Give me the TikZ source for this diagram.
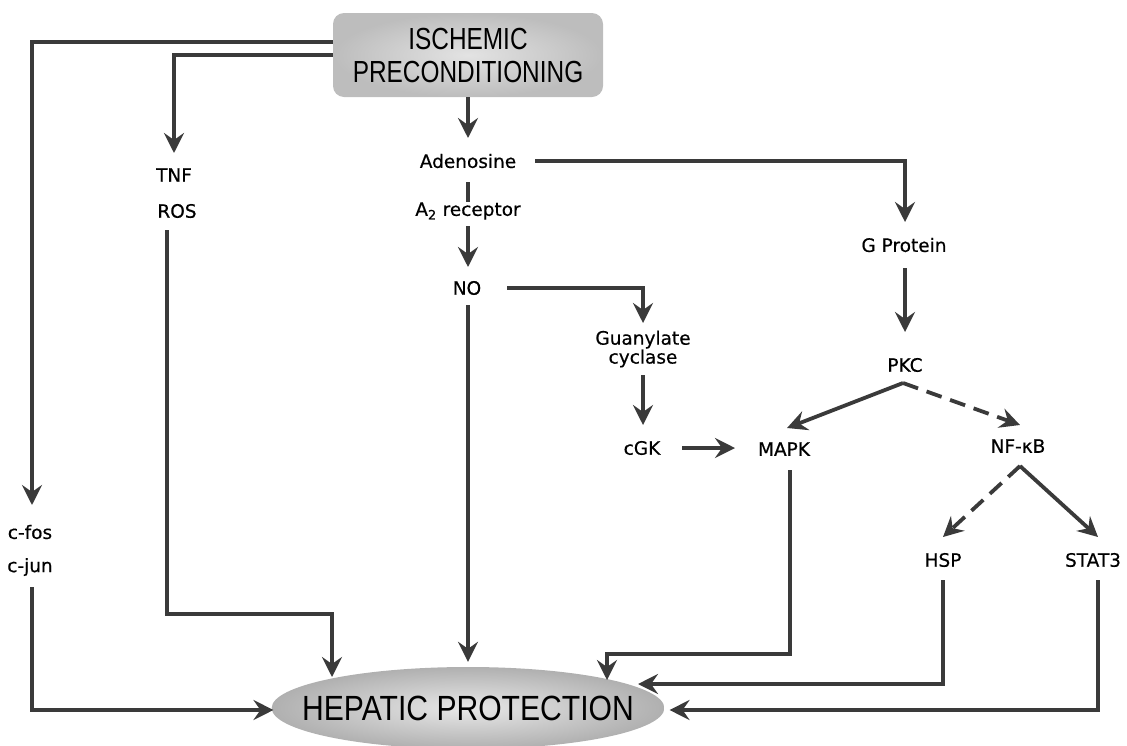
\documentclass[tikz,border=0pt]{standalone}
\usepackage{fontspec}
\setmainfont{DejaVu Sans}
\newfontfamily\lblfont[FakeBold=0.5]{DejaVu Sans}
\newfontfamily\titlefont[FakeStretch=0.80]{Liberation Sans}
\newfontfamily\hepfont[FakeStretch=0.86]{Liberation Sans}
\usetikzlibrary{shapes.geometric,arrows.meta,calc}
\definecolor{linegray}{HTML}{3A3A3A}
\begin{document}
\begin{tikzpicture}[x=1pt,y=-1pt,
  lbl/.style={font=\lblfont\fontsize{18.5}{20}\selectfont, inner sep=0pt},
  arr/.style={draw=linegray, line width=3.8pt, -{Stealth[length=20pt,width=20pt,inset=7pt]}},
  plain/.style={draw=linegray, line width=3.8pt},
  dsh/.style={arr, dash pattern=on 16pt off 9pt}]
\useasboundingbox (0,0) rectangle (1127,745);

% main boxes
\node[rounded corners=11pt, minimum width=270pt, minimum height=84pt, inner sep=0pt,
      shading=radial, inner color=gray!22, outer color=gray!52,
      align=center, font=\titlefont\fontsize{30.5}{33}\selectfont] (isch) at (468,55)
      {ISCHEMIC\\PRECONDITIONING};
\node[ellipse, minimum width=384pt, minimum height=82pt, inner xsep=-27pt, inner ysep=0pt,
      shading=radial, inner color=gray!18, outer color=gray!62,
      font=\hepfont\fontsize{35}{38}\selectfont] (hep) at (468,708)
      {HEPATIC PROTECTION};

% labels
\node[lbl] (aden) at (468,161) {Adenosine};
\node[lbl] (a2) at (468,211) {A\textsubscript{2} receptor};
\node[lbl] (no) at (467,288) {NO};
\node[lbl] (gprot) at (904,245) {G Protein};
\node[lbl] (pkc) at (905,365) {PKC};
\node[lbl, align=center, font=\lblfont\fontsize{18.5}{15}\selectfont] (guan) at (643,349) {Guanylate\\cyclase};
\node[lbl] (cgk) at (642,448) {cGK};
\node[lbl] (mapk) at (784,449) {MAPK};
\node[lbl] (nfkb) at (1018,446) {NF-κB};
\node[lbl] (hsp) at (943,560) {HSP};
\node[lbl] (stat3) at (1093,560) {STAT3};
\node[lbl] (tnf) at (174,175) {TNF};
\node[lbl] (ros) at (177,211) {ROS};
\node[lbl] (cfos) at (30,532) {c-fos};
\node[lbl] (cjun) at (30,567) {c-jun};

% connectors
\draw[arr] ([yshift=13pt]isch.west) -| ($(cfos)+(2,-27)$);
\draw[arr] (isch.west) -| ($(tnf)+(0,-22)$);
\draw[arr] ($(ros)+(-10,19)$) |- ($(hep)+(-136,-94)$) -- ($(hep)+(-136,-31)$);
\draw[arr] ($(cjun)+(2,20)$) |- ($(hep.west)+(2,2)$);
\draw[arr] (isch.south) -- ($(aden)+(0,-23)$);
\draw[plain] ($(aden)+(0,21)$) -- ($(a2)+(0,-9)$);
\draw[arr] ($(a2)+(0,15)$) -- ($(no)+(1,-21)$);
\draw[arr] ($(no)+(1,17)$) -- ($(hep.north)+(0,-5)$);
\draw[arr] ($(aden)+(67,0)$) -| ($(gprot)+(1,-23)$);
\draw[arr] ($(gprot)+(1,23)$) -- ($(pkc)+(0,-33)$);
\draw[arr] ($(no)+(40,0)$) -| ($(guan)+(0,-26)$);
\draw[arr] ($(guan)+(0,26)$) -- ($(cgk)+(1,-23)$);
\draw[arr] ($(cgk)+(40,0)$) -- ($(mapk)+(-49,-1)$);
\draw[arr] ($(pkc)+(-2,18)$) -- ($(mapk)+(3,-21)$);
\draw[dsh] ($(pkc)+(-2,18)$) -- ($(nfkb)+(2,-21)$);
\draw[dsh] ($(nfkb)+(2,20)$) -- ($(hsp)+(0,-23)$);
\draw[arr] ($(nfkb)+(2,20)$) -- ($(stat3)+(5,-23)$);
\draw[arr] ($(mapk)+(6,21)$) |- ($(hep)+(139,-54)$) -- ($(hep)+(139,-28)$);
\draw[arr] ($(hsp)+(0,20)$) |- ($(hep)+(170,-24)$);
\draw[arr] ($(stat3)+(5,20)$) |- ($(hep.east)+(5,2)$);
\end{tikzpicture}
\end{document}
